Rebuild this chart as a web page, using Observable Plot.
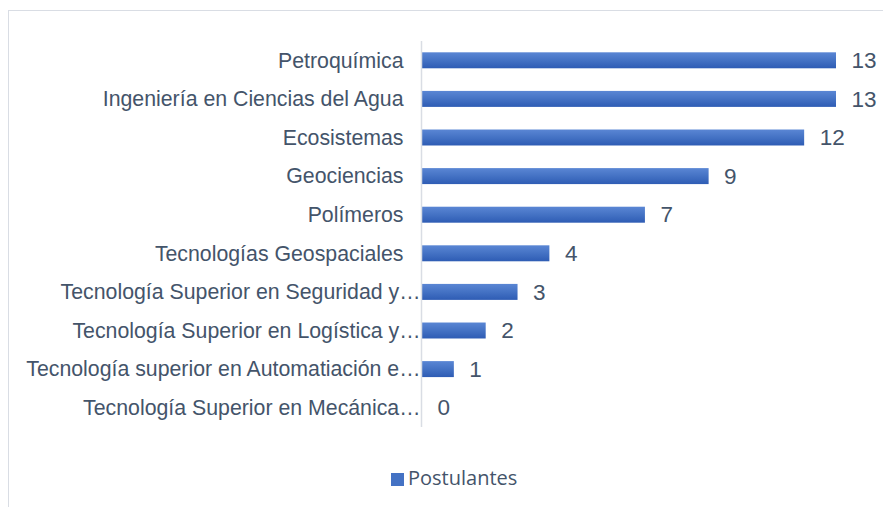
<!DOCTYPE html>
<html>
<head>
<meta charset="utf-8">
<script src="https://cdn.jsdelivr.net/npm/d3@7"></script>
<script src="https://cdn.jsdelivr.net/npm/@observablehq/plot@0.6"></script>
<style>
  html, body { margin: 0; padding: 0; background: #fff; overflow: hidden; width: 883px; height: 507px; }
  #frame { position: absolute; left: 8px; top: 10px; width: 900px; height: 520px; border: 1.5px solid #d9dde4; box-sizing: border-box; }
  #chart { position: absolute; left: 0; top: 0; }
  #chart svg text { font-family: "Liberation Sans", Arial, sans-serif; }
  #legend { position: absolute; left: 391px; top: 464px; white-space: nowrap; font-family: "Open Sans", sans-serif; font-size: 20px; color: #44546A; }
  #legend .sw { display: inline-block; width: 13px; height: 13px; background: #4472C4; margin-right: 4px; vertical-align: -1px; }
</style>
</head>
<body>
<div id="frame"></div>
<div id="chart"></div>
<div id="legend"><span class="sw"></span><span id="lgtext"></span></div>
<script>
const categories = [
  "Petroquímica",
  "Ingeniería en Ciencias del Agua",
  "Ecosistemas",
  "Geociencias",
  "Polímeros",
  "Tecnologías Geospaciales",
  "Tecnología Superior en Seguridad y…",
  "Tecnología Superior en Logística y…",
  "Tecnología superior en Automatiación e…",
  "Tecnología Superior en Mecánica…"
];
const values = [13, 13, 12, 9, 7, 4, 3, 2, 1, 0];
const seriesName = "Postulantes";

document.getElementById("lgtext").textContent = seriesName;

const data = categories.map((c, i) => ({category: c, value: values[i]}));
const textColor = "#44546A";
const fullLabels = categories.filter(c => !c.endsWith("…"));
const cutLabels = categories.filter(c => c.endsWith("…"));

const chart = Plot.plot({
  width: 883,
  height: 446,
  marginLeft: 422,
  marginRight: 47,
  marginTop: 41,
  marginBottom: 19,
  style: {background: "transparent"},
  x: {domain: [0, 13], axis: null},
  y: {domain: categories, paddingInner: 0.586, paddingOuter: 0.293, round: false, label: null, axis: null},
  marks: [
    Plot.barX(data, {x: "value", y: "category", fill: "url(#barGrad)"}),
    Plot.ruleX([0], {stroke: "#d9dde4", strokeWidth: 1.5, dx: -1}),
    Plot.axisY(fullLabels, {tickSize: 0, tickPadding: 19, fontSize: 21.3, fill: textColor, label: null}),
    Plot.axisY(cutLabels, {tickSize: 0, tickPadding: 2, fontSize: 21.3, fill: textColor, label: null}),
    Plot.text(data, {x: "value", y: "category", text: d => String(d.value), dx: 15, textAnchor: "start", fontSize: 22.5, fill: textColor})
  ]
});

const ns = "http://www.w3.org/2000/svg";
const defs = document.createElementNS(ns, "defs");
defs.innerHTML = `<linearGradient id="barGrad" x1="0" y1="0" x2="0" y2="1">
  <stop offset="0" stop-color="#5a86d4"/>
  <stop offset="0.5" stop-color="#4472C4"/>
  <stop offset="1" stop-color="#2e5cb4"/>
</linearGradient>`;
chart.insertBefore(defs, chart.firstChild);
document.getElementById("chart").appendChild(chart);
</script>
</body>
</html>
